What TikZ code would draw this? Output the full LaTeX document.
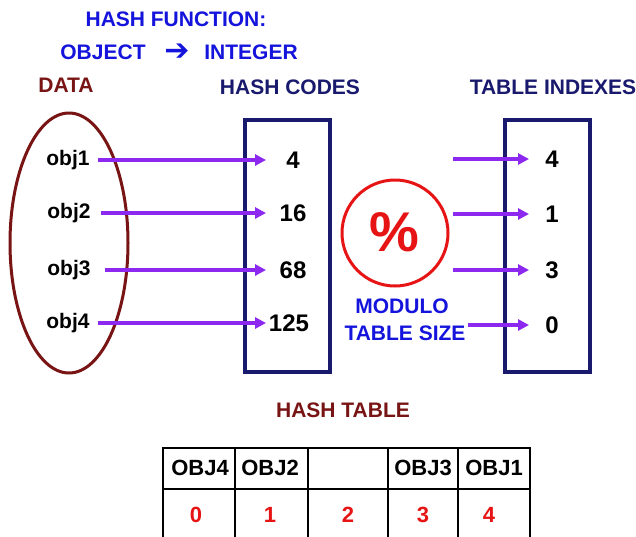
\documentclass[tikz,border=0pt]{standalone}
\usepackage{fontspec}
\setmainfont{Liberation Sans}
\newfontfamily\symf{DejaVu Sans}
\usetikzlibrary{arrows.meta}
\definecolor{hblue}{RGB}{20,20,220}
\definecolor{navy}{RGB}{25,25,110}
\definecolor{dred}{RGB}{120,20,20}
\definecolor{purp}{RGB}{140,40,240}
\definecolor{bred}{RGB}{230,20,20}
\tikzset{
  txt/.style={font=\bfseries\fontsize{21}{24}\selectfont, inner sep=0pt},
  lbl/.style={txt, text=black},
  num/.style={font=\bfseries\fontsize{24}{26}\selectfont, inner sep=0pt, text=black},
  tbl/.style={font=\bfseries\fontsize{22}{24}\selectfont, inner sep=0pt},
  frame/.style={draw=navy, line width=3.4pt},
  conn/.style={draw=purp, line width=3.6pt, -{Triangle[length=11pt,width=11pt]}},
  cell/.style={draw=black, line width=2.8pt}
}
\begin{document}
\begin{tikzpicture}[x=1pt,y=-1pt]
\useasboundingbox (0,0) rectangle (636,536);
\fill[white] (0,0) rectangle (636,536);

% headings
\node[txt, text=hblue] (hf) at (176,19) {HASH FUNCTION:};
\node[txt, text=hblue] (ob) at (103,52) {OBJECT};
\node[font=\fontsize{30}{30}\selectfont\symf\bfseries, inner sep=0pt, text=hblue] (ar) at (177,52) {➔};
\node[txt, text=hblue] (in) at (251,52) {INTEGER};
\node[txt, text=dred] (data) at (66,85) {DATA};
\node[txt, text=navy] (hc) at (290,87) {HASH CODES};
\node[txt, text=navy] (ti) at (553,87) {TABLE INDEXES};

% shapes
\draw[draw=dred, line width=3pt] (69,243) ellipse [x radius=59, y radius=130];
\draw[frame] (245,120) rectangle (330,372);
\draw[frame] (505,120) rectangle (590,372);
\draw[draw=bred, line width=3pt] (395,233) circle [radius=53];
\node[font=\bfseries\fontsize{56}{58}\selectfont, text=bred, inner sep=0pt] (pc) at (394,232) {\%};
\node[txt, text=hblue] (mod) at (402,306) {MODULO};
\node[txt, text=hblue] (tsz) at (405,333) {TABLE SIZE};

% objects
\node[lbl] (o1) at (68,160) {obj1};
\node[lbl] (o2) at (69,213) {obj2};
\node[lbl] (o3) at (69,270) {obj3};
\node[lbl] (o4) at (68,323) {obj4};

% hash codes
\node[num] (h1) at (293,160) {4};
\node[num] (h2) at (293,213) {16};
\node[num] (h3) at (293,270) {68};
\node[num] (h4) at (289,323) {125};

% indexes
\node[num] (i1) at (552,159) {4};
\node[num] (i2) at (552,214) {1};
\node[num] (i3) at (552,270) {3};
\node[num] (i4) at (552,325) {0};

\coordinate (s1) at (453,159);
\coordinate (s2) at (453,214);
\coordinate (s3) at (453,270);
\coordinate (s4) at (468,325);

% connectors
\draw[conn, shorten <=8pt] (o1.east) -- (h1.west -| 266,0);
\draw[conn, shorten <=10pt] (o2.east) -- (h2.west -| 266,0);
\draw[conn, shorten <=14pt] (o3.east) -- (h3.west -| 266,0);
\draw[conn, shorten <=8pt] (o4.east) -- (h4.west -| 266,0);
\draw[conn] (s1) -- (i1.west -| 529,0);
\draw[conn] (s2) -- (i2.west -| 529,0);
\draw[conn] (s3) -- (i3.west -| 529,0);
\draw[conn] (s4) -- (i4.west -| 529,0);

% hash table
\node[txt, text=dred] (ht) at (343,410) {HASH TABLE};
\draw[cell] (163,537) -- (163,448) -- (530,448) -- (530,537);
\draw[cell] (163,489) -- (530,489);
\foreach \x in {235,308,388,458} \draw[cell] (\x,448) -- (\x,537);
\node[tbl] (c0) at (200,468) {OBJ4};
\node[tbl] (c1) at (270,468) {OBJ2};
\node[tbl] (c3) at (423,468) {OBJ3};
\node[tbl] (c4) at (494,468) {OBJ1};
\node[tbl, text=bred] (n0) at (196,515) {0};
\node[tbl, text=bred] (n1) at (270,515) {1};
\node[tbl, text=bred] (n2) at (348,515) {2};
\node[tbl, text=bred] (n3) at (423,515) {3};
\node[tbl, text=bred] (n4) at (489,515) {4};
\end{tikzpicture}
\end{document}
